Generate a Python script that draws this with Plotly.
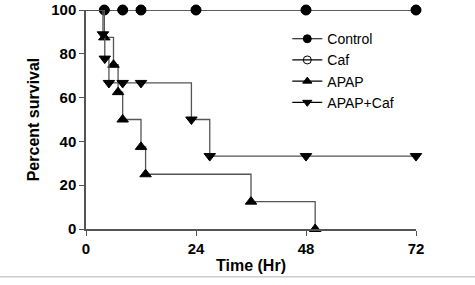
import plotly.graph_objects as go

# Kaplan-Meier step data (time in hours, percent survival)
control_t = [0, 4, 8, 12, 24, 48, 72]
control_s = [100, 100, 100, 100, 100, 100, 100]
caf_t = [0, 4, 8, 12, 24, 48, 72]
caf_s = [100, 100, 100, 100, 100, 100, 100]
apap_t = [0, 4, 6, 7, 8, 12, 13, 36, 50]
apap_s = [100, 87.5, 75, 62.5, 50, 37.5, 25, 12.5, 0]
apapcaf_t = [0, 3.7, 4.1, 5, 8, 12, 23, 27, 48, 72]
apapcaf_s = [100, 88.9, 77.8, 66.7, 66.7, 66.7, 50, 33.3, 33.3, 33.3]

x_ticks = [0, 24, 48, 72]
y_ticks = [0, 20, 40, 60, 80, 100]

FONT = "Liberation Sans, Arial, sans-serif"
LINE_COLOR = "#555555"

series = [
    ("Caf", caf_t, caf_s, "circle-open", 9),
    ("Control", control_t, control_s, "circle", 10),
    ("APAP", apap_t, apap_s, "triangle-up", 10),
    ("APAP+Caf", apapcaf_t, apapcaf_s, "triangle-down", 10),
]

fig = go.Figure()
for name, t, s, sym, sz in series:
    fig.add_trace(go.Scatter(
        x=t, y=s, mode="lines", line=dict(color=LINE_COLOR, width=1.3, shape="hv"),
        showlegend=False, hoverinfo="skip", cliponaxis=False))
    fig.add_trace(go.Scatter(
        x=t[1:], y=s[1:], mode="markers",
        marker=dict(symbol=sym, size=sz, color="black", line=dict(color="black", width=1)),
        showlegend=False, cliponaxis=False, name=name))

for name in ["Control", "Caf", "APAP", "APAP+Caf"]:
    sym = {"Control": "circle", "Caf": "circle-open", "APAP": "triangle-up",
           "APAP+Caf": "triangle-down"}[name]
    fig.add_trace(go.Scatter(
        x=[None], y=[None], mode="lines+markers", name=name,
        line=dict(color="black", width=1.2),
        marker=dict(symbol=sym, size=8, color="black", line=dict(color="black", width=1))))

fig.update_layout(
    width=475, height=285,
    margin=dict(l=86, r=59, t=10, b=56, autoexpand=False),
    paper_bgcolor="white", plot_bgcolor="white",
    font=dict(family=FONT, color="black"),
    legend=dict(x=0.61, y=0.94, xanchor="left", yanchor="top",
                font=dict(size=14, family=FONT), bgcolor="rgba(0,0,0,0)",
                itemwidth=30, tracegroupgap=0),
    xaxis=dict(range=[0, 72], tickvals=x_ticks, showgrid=False, zeroline=False,
               showline=True, linecolor=LINE_COLOR, linewidth=1.5, automargin=False,
               ticks="outside", ticklen=5, tickcolor=LINE_COLOR, tickwidth=1.2,
               tickfont=dict(size=15, family=FONT, weight="bold"),
               title=dict(text="Time (Hr)", font=dict(size=16, family=FONT, weight="bold"),
                          standoff=4)),
    yaxis=dict(range=[0, 100], tickvals=y_ticks, showgrid=False, zeroline=False,
               showline=True, linecolor=LINE_COLOR, linewidth=1.5, automargin=False,
               ticks="outside", ticklen=5, tickcolor=LINE_COLOR, tickwidth=1.2,
               tickfont=dict(size=15, family=FONT, weight="bold"),
               title=dict(text="Percent survival", font=dict(size=16, family=FONT, weight="bold"),
                          standoff=8)),
)

fig.add_shape(type="line", xref="paper", yref="paper", x0=-0.3, x1=1.3,
              y0=-0.218, y1=-0.218, line=dict(color="#cccccc", width=1.5))

fig.write_html(
    "out.html",
    post_script=("document.body.style.margin='0';"
                 "document.querySelectorAll('.modebar-container').forEach("
                 "function(e){e.style.display='none';});"),
)
